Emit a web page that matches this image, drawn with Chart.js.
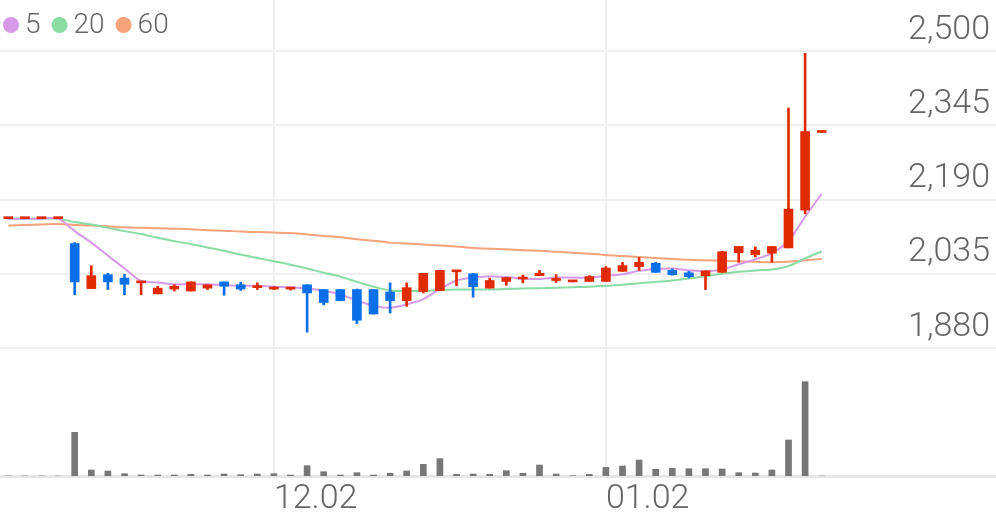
<!DOCTYPE html>
<html lang="ko">
<head>
<meta charset="UTF-8">
<title>Daily candles</title>
<script src="https://cdn.jsdelivr.net/npm/chart.js"></script>
<style>
  html, body { margin: 0; padding: 0; background: #fff; }
  #chart { display: block; }
</style>
</head>
<body>
<canvas id="chart" width="996" height="519"></canvas>
<script>
// trading days (last 10 slots are empty space on the right)
const dates = ['11.08','11.11','11.12','11.13','11.14','11.15','11.18','11.19','11.20','11.21',
  '11.22','11.25','11.26','11.27','11.28','11.29','12.02','12.03','12.04','12.05',
  '12.06','12.09','12.10','12.11','12.12','12.13','12.16','12.17','12.18','12.19',
  '12.20','12.23','12.24','12.26','12.27','12.30','01.02','01.03','01.06','01.07',
  '01.08','01.09','01.10','01.13','01.14','01.15','01.16','01.17','01.20','01.21',
  '','','','','','','','','',''];
const monthTicks = ['12.02', '01.02'];

const opens  = [2150,2150,2150,2150,2098,2004,2033,2026,2016,1993,2003,1999,2005,2018,2012,2006,2003,2003,2012,2002,
                2002,2002,2002,1997,1979,1998,2000,2039,2035,2005,2019,2024,2031,2021,2018,2019,2019,2040,2050,2057,
                2042,2037,2031,2038,2079,2075,2078,2089,2168,2330];
const highs  = [2150,2150,2150,2150,2100,2052,2036,2034,2019,2009,2012,2018,2012,2018,2017,2016,2008,2007,2012,2002,
                2002,2003,2002,2016,2016,2036,2042,2042,2036,2026,2027,2032,2042,2033,2020,2031,2050,2059,2069,2059,
                2045,2040,2041,2082,2092,2091,2092,2381,2495,2330];
const lows   = [2150,2150,2150,2150,1991,2004,2002,1991,1991,1993,1999,1999,2002,1990,2000,2002,2002,2001,1913,1970,
                1979,1931,1951,1953,1967,1995,2000,2010,1986,2005,2011,2016,2031,2017,2018,2019,2019,2040,2042,2038,
                2032,2026,2002,2038,2059,2070,2059,2089,2160,2330];
const closes = [2150,2150,2150,2150,2018,2031,2018,2013,2019,2005,2009,2018,2012,2009,2003,2010,2007,2006,1995,1975,
                1979,1938,1951,1979,2006,2036,2042,2042,2008,2021,2027,2028,2036,2024,2020,2029,2047,2052,2059,2038,
                2033,2029,2041,2081,2092,2084,2092,2170,2332,2330];
const volumes = [0,0,0,0,437000,60000,50000,23000,10000,10000,10000,17000,10000,20000,13000,20000,23000,10000,103000,43000,
                 10000,33000,10000,27000,50000,117000,173000,17000,20000,17000,53000,27000,110000,20000,3000,17000,87000,100000,160000,67000,
                 77000,73000,73000,70000,33000,30000,60000,360000,943000,0];

const ma5  = [2150,2150,2150,2150,2124,2100,2073,2046,2020,2017,2013,2013,2013,2011,2010,2010,2008,2007,2004,1999,
              1992,1979,1968,1964,1971,1982,2003,2021,2027,2030,2028,2025,2024,2027,2027,2027,2031,2034,2041,2045,
              2046,2042,2040,2044,2055,2065,2078,2104,2154,2202];
const ma20 = [2150,2150,2150,2150,2143,2138,2131,2124,2118,2110,2103,2097,2090,2083,2075,2068,2061,2054,2046,2037,
              2029,2018,2008,2000,1999,1999,2001,2002,2002,2002,2003,2004,2005,2006,2007,2008,2010,2012,2015,2018,
              2021,2025,2030,2035,2039,2042,2044,2051,2067,2082];
const ma60 = [2136,2137,2138,2139,2137,2136,2134,2132,2131,2130,2129,2128,2126,2125,2123,2122,2121,2120,2117,2114,
              2111,2107,2104,2100,2098,2096,2094,2092,2089,2087,2086,2084,2083,2081,2079,2077,2074,2072,2070,2068,
              2066,2064,2063,2062,2061,2060,2059,2060,2063,2066];

const priceTicks = [1880, 2035, 2190, 2345, 2500];

const UP = '#e02a00';
const DOWN = '#0a6fe8';
const TEXT = '#666666';
const FONT = 'Roboto';

const candleColors = closes.map((c, i) => c >= opens[i] ? UP : DOWN);
const bodies = opens.map((o, i) => [Math.min(o, closes[i]), Math.max(o, closes[i])]);
const wicks = lows.map((l, i) => [l, highs[i]]);

// legend for the moving averages, drawn over the top-left of the plot
const maLegend = {
  id: 'maLegend',
  afterDraw(chart) {
    const ctx = chart.ctx;
    const y = 25;
    let x = chart.chartArea.left + 3;
    ctx.save();
    ctx.font = '300 28px ' + FONT;
    ctx.textBaseline = 'middle';
    chart.data.datasets.filter(d => d.type === 'line').forEach(d => {
      ctx.fillStyle = d.borderColor;
      ctx.beginPath();
      ctx.arc(x + 8, y, 8, 0, Math.PI * 2);
      ctx.fill();
      x += 22;
      ctx.fillStyle = TEXT;
      ctx.fillText(d.label, x, y + 1);
      x += ctx.measureText(d.label).width + 11;
    });
    ctx.restore();
  }
};

new Chart(document.getElementById('chart'), {
  data: {
    labels: dates,
    datasets: [
      { type: 'bar', label: 'body', data: bodies, backgroundColor: candleColors,
        barThickness: 9, minBarLength: 2, grouped: false, order: 0, yAxisID: 'y' },
      { type: 'bar', label: 'wick', data: wicks, backgroundColor: candleColors,
        barThickness: 2, grouped: false, order: 1, yAxisID: 'y' },
      { type: 'line', label: '5', data: ma5, borderColor: '#d69ae9',
        borderWidth: 2, pointRadius: 0, tension: 0.3, order: 5, yAxisID: 'y' },
      { type: 'line', label: '20', data: ma20, borderColor: '#8bdba5',
        borderWidth: 2, pointRadius: 0, tension: 0.3, order: 6, yAxisID: 'y' },
      { type: 'line', label: '60', data: ma60, borderColor: '#f6a27b',
        borderWidth: 2, pointRadius: 0, tension: 0.3, order: 7, yAxisID: 'y' },
      { type: 'bar', label: 'vol', data: volumes, backgroundColor: '#777777',
        barThickness: 6, grouped: false, order: 8, yAxisID: 'yv' }
    ]
  },
  options: {
    responsive: false,
    animation: false,
    layout: { padding: 0 },
    plugins: {
      tooltip: { enabled: false },
      legend: { display: false }
    },
    scales: {
      x: {
        type: 'category',
        offset: true,
        grid: {
          offset: false,
          drawTicks: false,
          lineWidth: 2,
          color: ctx => monthTicks.includes(dates[ctx.index]) ? '#efefef' : 'rgba(0,0,0,0)'
        },
        border: { display: true, color: '#e6e6e6', width: 3 },
        ticks: {
          autoSkip: false,
          maxRotation: 0,
          minRotation: 0,
          align: 'start',
          padding: 3,
          color: TEXT,
          font: { family: FONT, size: 34, weight: '300' },
          callback: function (v) {
            const l = this.getLabelForValue(v);
            return monthTicks.includes(l) ? l : '';
          }
        },
        afterFit: s => { s.height = 43; s.paddingLeft = 0; s.paddingRight = 0; }
      },
      y: {
        position: 'right',
        min: 1612.8,
        max: 2606.5,
        afterBuildTicks: s => { s.ticks = priceTicks.map(v => ({ value: v })); },
        grid: { drawTicks: false, lineWidth: 2, color: '#efefef' },
        border: { display: false },
        ticks: {
          mirror: true,
          padding: -6,
          labelOffset: -21,
          color: TEXT,
          font: { family: FONT, size: 34, weight: '300' },
          callback: v => v.toLocaleString('en-US')
        },
        afterFit: s => { s.width = 0; s.paddingTop = 0; s.paddingBottom = 0; }
      },
      yv: {
        display: false,
        min: 0,
        max: 4760000
      }
    }
  },
  plugins: [maLegend]
});
</script>
</body>
</html>
